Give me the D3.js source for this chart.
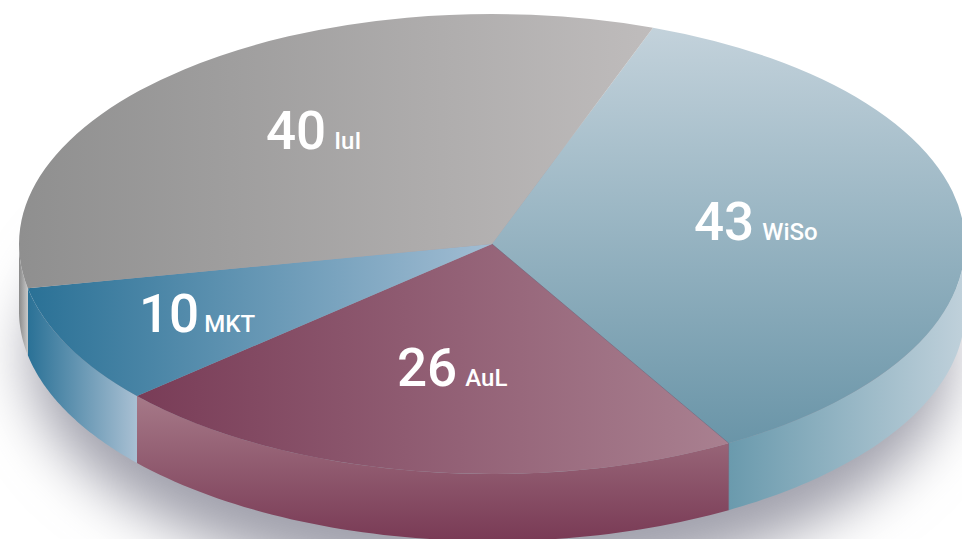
<!DOCTYPE html>
<html>
<head>
<meta charset="utf-8">
<script src="https://cdn.jsdelivr.net/npm/d3@7/dist/d3.min.js"></script>
<style>
html,body{margin:0;padding:0;background:#fff;overflow:hidden}
svg{display:block}
text{font-family:Roboto,sans-serif;fill:#fff}
</style>
</head>
<body>
<script>
const categories = ["WiSo", "AuL", "MKT", "IuI"];
const values = [43, 26, 10, 40];

const W = 962, H = 539;
const cx = 492, cy = 244, rx = 473, ry = 230, depth = 67;
const startDeg = 19.9;
const topGrad = {
  WiSo: {dir: "v", stops: ["#c3d2db", "#6a95a8"]},
  AuL:  {dir: "h", stops: ["#793c57", "#a98090"]},
  MKT:  {dir: "h", stops: ["#2a7196", "#a2bdd3"]},
  IuI:  {dir: "h", stops: ["#8f8f8f", "#bfbcbc"]}
};
const sideGrad = {
  WiSo: {dir: "h", stops: ["#6a9aad", "#c0d1db"]},
  AuL:  {dir: "v", stops: ["#a67988", "#793a55"]},
  MKT:  {dir: "h", stops: ["#2a7196", "#a9c0d3"]},
  IuI:  {dir: "h", stops: ["#8a8a8a", "#c8c8c8"]}
};
const labelLayout = {
  WiSo: {x: 694, y: 240, gap: 8},
  AuL:  {x: 397, y: 386, gap: 8},
  MKT:  {x: 139, y: 332, gap: 5},
  IuI:  {x: 266, y: 149, gap: 8}
};

const svg = d3.select("body").append("svg").attr("width", W).attr("height", H);
const defs = svg.append("defs");

function addGrad(id, g) {
  const lg = defs.append("linearGradient").attr("id", id)
    .attr("x1", 0).attr("y1", 0)
    .attr("x2", g.dir === "h" ? 1 : 0).attr("y2", g.dir === "h" ? 0 : 1);
  lg.selectAll("stop").data(g.stops).join("stop")
    .attr("offset", (d, i) => i / (g.stops.length - 1))
    .attr("stop-color", d => d);
}
categories.forEach(c => { addGrad("top-" + c, topGrad[c]); addGrad("side-" + c, sideGrad[c]); });

defs.append("filter").attr("id", "blur")
  .attr("x", "-30%").attr("y", "-30%").attr("width", "160%").attr("height", "160%")
  .append("feGaussianBlur").attr("stdDeviation", 28);

const rad = d => d * Math.PI / 180;
const pie = d3.pie().sort(null).startAngle(rad(startDeg)).endAngle(rad(startDeg + 360));
const slices = pie(values).map((s, i) => ({...s, name: categories[i]}));

const px = d3.scaleLinear().domain([-1, 1]).range([cx - rx, cx + rx]);
const py = d3.scaleLinear().domain([-1, 1]).range([cy - ry, cy + ry]);

// drop shadow
svg.append("ellipse")
  .attr("cx", cx - 2).attr("cy", cy + depth + 44)
  .attr("rx", rx - 12).attr("ry", ry + 2)
  .attr("fill", "#a0a0ac").attr("filter", "url(#blur)");

// side walls: only the near half of the disc is visible
const wall = (a0, a1) => {
  const steps = d3.range(0, 61).map(i => a0 + (a1 - a0) * i / 60);
  const upper = steps.map(a => [px(Math.sin(a)), py(-Math.cos(a))]);
  const lower = steps.slice().reverse().map(a => [px(Math.sin(a)), py(-Math.cos(a)) + depth]);
  return d3.line()(upper.concat(lower)) + "Z";
};
const sideG = svg.append("g");
slices.forEach(s => {
  const a0 = Math.max(s.startAngle, Math.PI / 2);
  const a1 = Math.min(s.endAngle, Math.PI * 1.5);
  if (a1 <= a0) return;
  sideG.append("path").attr("d", wall(a0, a1)).attr("fill", `url(#side-${s.name})`);
});

// top face
const arc = d3.arc().innerRadius(0).outerRadius(rx);
const topG = svg.append("g").attr("transform", `translate(${cx},${cy}) scale(1,${ry / rx})`);
topG.selectAll("path").data(slices).join("path")
  .attr("d", arc)
  .attr("fill", d => `url(#top-${d.name})`);

// thin seam where WiSo meets AuL, on the top face and down the wall
const seamA = slices[0].endAngle;
svg.append("path")
  .attr("d", d3.line()([
    [px(0), py(0)],
    [px(Math.sin(seamA)), py(-Math.cos(seamA))],
    [px(Math.sin(seamA)), py(-Math.cos(seamA)) + depth]
  ]))
  .attr("fill", "none").attr("stroke", "#6f6076").attr("stroke-width", 0.8).attr("stroke-opacity", 0.7);

// labels
const labels = svg.append("g").selectAll("text").data(slices).join("text")
  .attr("x", d => labelLayout[d.name].x)
  .attr("y", d => labelLayout[d.name].y);
labels.append("tspan").attr("font-size", 53).attr("font-weight", 500).text(d => d.value);
labels.append("tspan").attr("dx", d => labelLayout[d.name].gap)
  .attr("font-size", 24).attr("font-weight", 500).text(d => d.name);
</script>
</body>
</html>
